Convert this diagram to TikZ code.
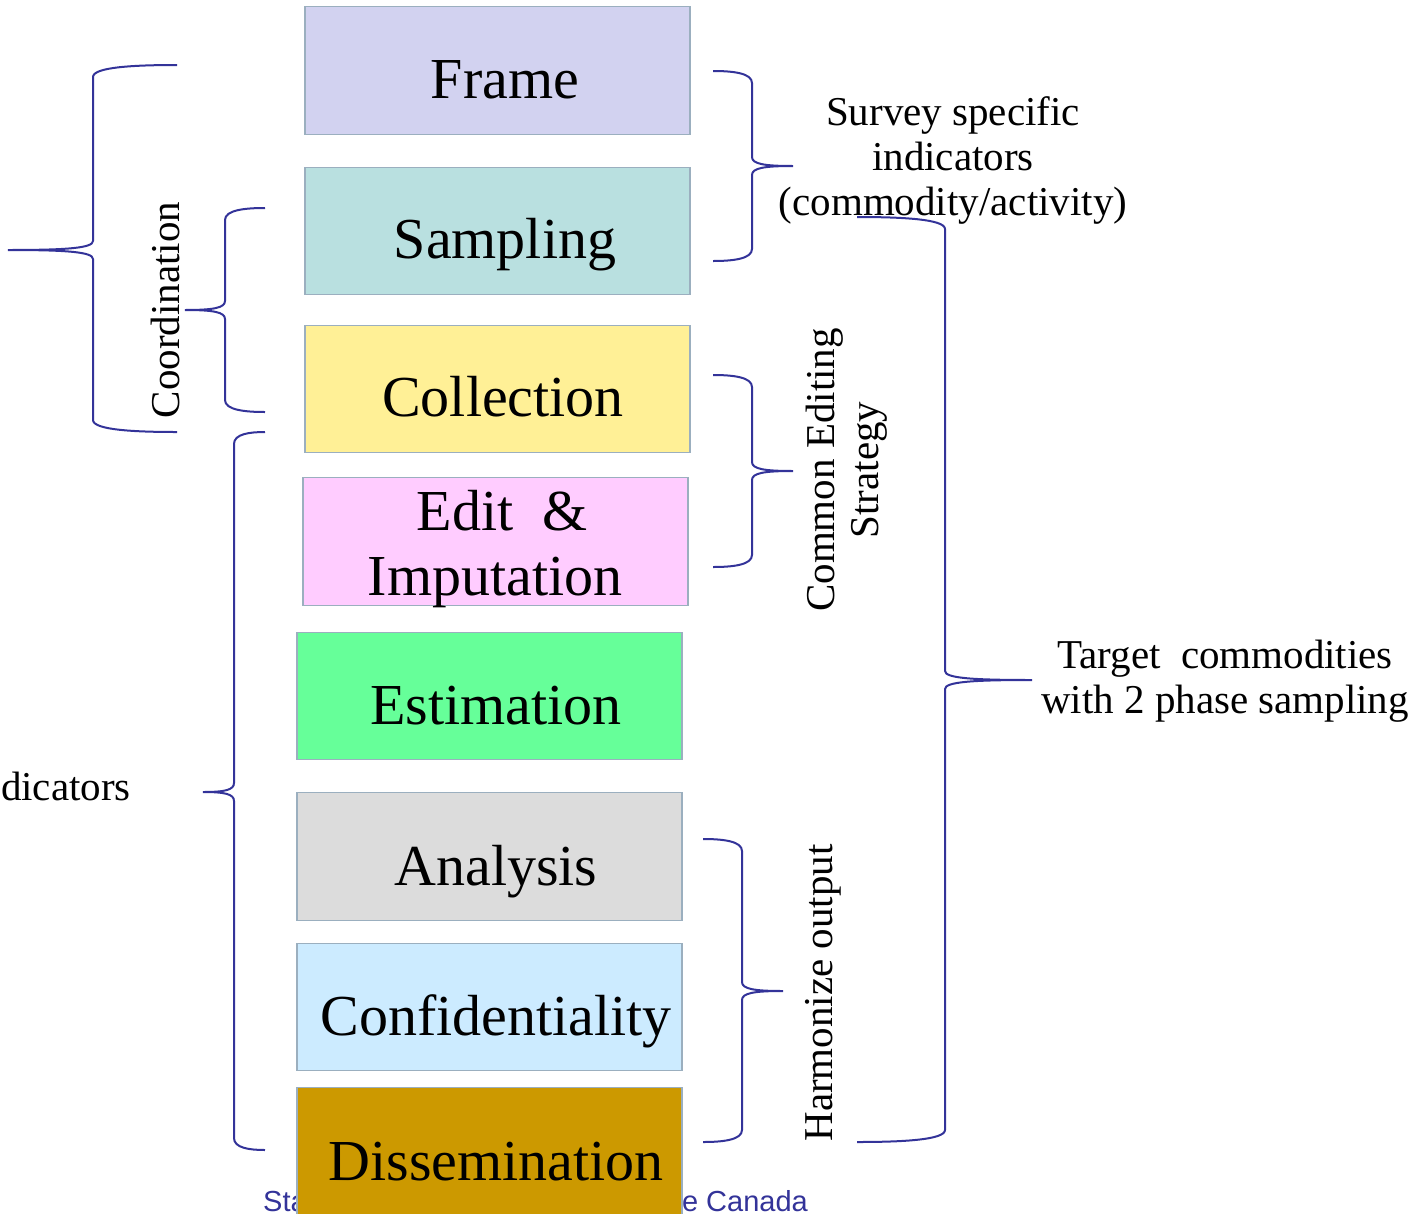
\documentclass[tikz,border=0pt]{standalone}
\usepackage{fontspec}
\setmainfont{Liberation Serif}
\newfontfamily\footfont{Liberation Sans}
\definecolor{bracecol}{HTML}{333399}
\definecolor{boxline}{HTML}{9BAFBF}
\definecolor{cFrame}{HTML}{D2D2F0}
\definecolor{cSampling}{HTML}{B9E0E0}
\definecolor{cCollection}{HTML}{FFF096}
\definecolor{cEdit}{HTML}{FFCCFF}
\definecolor{cEstimation}{HTML}{66FF99}
\definecolor{cAnalysis}{HTML}{DCDCDC}
\definecolor{cConf}{HTML}{CCEBFF}
\definecolor{cDiss}{HTML}{CC9900}
\newcommand{\CurlyBrace}[6]{%
 \draw[brc] (#1,#2) .. controls ({#4+0.5*(#1-#4)},#2) and (#4,{#2+2}) .. (#4,{#2+12})
 -- (#4,{#6-9}) .. controls (#4,{#6-2}) and ({#4+0.3*(#5-#4)},#6) .. (#5,#6)
 .. controls ({#4+0.3*(#5-#4)},#6) and (#4,{#6+2}) .. (#4,{#6+9})
 -- (#4,{#3-12}) .. controls (#4,{#3-2}) and ({#4+0.5*(#1-#4)},#3) .. (#1,#3);}
\tikzset{
 stagebox/.style={rectangle, draw=boxline, line width=1.2pt, inner sep=0pt,
   minimum width=385pt, minimum height=127.5pt},
 stagetext/.style={anchor=base, inner sep=0pt, font=\fontsize{58}{65}\selectfont},
 annot/.style={inner sep=0pt, align=center, font=\fontsize{41}{45}\selectfont},
 brc/.style={draw=bracecol, line width=2pt},
 foot/.style={inner sep=0pt, text=bracecol, font=\footfont\fontsize{29}{32}\selectfont}
}
\begin{document}
\begin{tikzpicture}[x=1pt,y=-1pt]
\useasboundingbox (0,0) rectangle (1427,1213);
% footer (partly hidden behind the last stage)
\node[foot, anchor=base west] (footL) at (263,1211) {Sta};
\node[foot, anchor=base east] (footR) at (808,1211) {e Canada};
% stages
\node[stagebox, fill=cFrame] (frame) at (497.5,70.5) {};
\node[stagebox, fill=cSampling] (sampling) at (497.5,231) {};
\node[stagebox, fill=cCollection] (collection) at (497.5,389) {};
\node[stagebox, fill=cEdit] (edit) at (495.5,541.5) {};
\node[stagebox, fill=cEstimation] (estimation) at (489.5,696) {};
\node[stagebox, fill=cAnalysis] (analysis) at (489.5,856.5) {};
\node[stagebox, fill=cConf] (conf) at (489.5,1007) {};
\node[stagebox, fill=cDiss] (diss) at (489.5,1151) {};
\node[stagetext] (frameT) at (505,98) {Frame};
\node[stagetext] (samplingT) at (505,258) {Sampling};
\node[stagetext] (collectionT) at (503,416) {Collection};
\node[stagetext] (editT1) at (502,530) {Edit~~\&};
\node[stagetext] (editT2) at (495,595) {Imputation};
\node[stagetext] (estimationT) at (496,724) {Estimation};
\node[stagetext] (analysisT) at (496,885) {Analysis};
\node[stagetext] (confT) at (496,1035) {Confidentiality};
\node[stagetext] (dissT) at (496,1180) {Dissemination};
% braces
\CurlyBrace{177}{65}{432}{93}{8}{250}
\CurlyBrace{265}{208}{412}{225}{185}{310}
\CurlyBrace{265}{432}{1150}{234}{203}{792}
\CurlyBrace{713}{71}{261}{752}{793}{166}
\CurlyBrace{713}{375}{567}{752}{793}{471}
\CurlyBrace{703}{839}{1142}{742}{783}{991}
\CurlyBrace{857}{217}{1142}{945}{1032}{680}
% annotations
\node[annot] (survey) at (953,160) {Survey specific\\indicators\\(commodity/activity)};
\node[annot] (target) at (1225,681) {Target~~commodities\\with 2 phase sampling};
\node[annot, rotate=90] (coord) at (165,310) {Coordination};
\node[annot, rotate=90, font=\fontsize{41}{44}\selectfont] (common) at (847,470) {Common Editing\\Strategy};
\node[annot, rotate=90] (harm) at (823,993) {Harmonize output};
\node[annot, anchor=base east] (indic) at (131,800) {dicators};
\end{tikzpicture}
\end{document}
